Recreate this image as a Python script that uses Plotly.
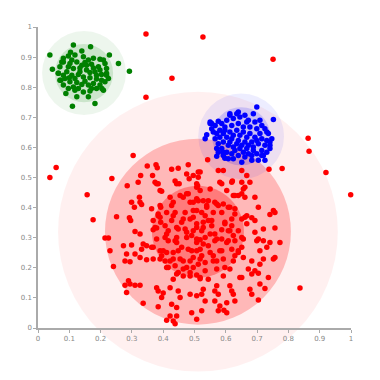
import plotly.graph_objects as go

# ---- data ----
tick_vals = [0, 0.1, 0.2, 0.3, 0.4, 0.5, 0.6, 0.7, 0.8, 0.9, 1]

red_outliers = [
    (0.345, 0.977), (0.527, 0.967), (0.428, 0.830), (0.345, 0.767), (0.751, 0.893),
    (0.304, 0.573), (0.058, 0.533), (0.038, 0.500), (0.157, 0.443), (0.863, 0.630),
    (0.866, 0.587), (0.920, 0.517), (0.999, 0.443), (0.837, 0.133), (0.738, 0.527),
    (0.780, 0.530), (0.236, 0.497), (0.176, 0.360),
]

red_upper_left = [
    (0.349, 0.538), (0.377, 0.542), (0.381, 0.532), (0.427, 0.527), (0.448, 0.531),
    (0.480, 0.542), (0.475, 0.512), (0.496, 0.507), (0.512, 0.518), (0.328, 0.507),
    (0.320, 0.484), (0.366, 0.507), (0.374, 0.484), (0.384, 0.479), (0.395, 0.454),
    (0.285, 0.473), (0.438, 0.488), (0.451, 0.479), (0.483, 0.496), (0.507, 0.479),
    (0.454, 0.440), (0.475, 0.446), (0.432, 0.418), (0.427, 0.407), (0.486, 0.418),
    (0.507, 0.429), (0.299, 0.418), (0.324, 0.434), (0.326, 0.418), (0.331, 0.410),
    (0.308, 0.401), (0.363, 0.396), (0.392, 0.401), (0.411, 0.384), (0.384, 0.373),
    (0.438, 0.384), (0.470, 0.384), (0.496, 0.390), (0.251, 0.370), (0.292, 0.366),
    (0.296, 0.357), (0.368, 0.357), (0.392, 0.351), (0.427, 0.357), (0.459, 0.351),
    (0.486, 0.362), (0.507, 0.346), (0.379, 0.332), (0.368, 0.326), (0.416, 0.323),
    (0.448, 0.329), (0.475, 0.318), (0.310, 0.321), (0.326, 0.312), (0.214, 0.299),
    (0.225, 0.299), (0.406, 0.301), (0.443, 0.301), (0.491, 0.307),
]

red_upper_right = [
    (0.542, 0.559), (0.576, 0.523), (0.592, 0.523), (0.518, 0.518), (0.651, 0.523),
    (0.667, 0.507), (0.512, 0.501), (0.581, 0.484), (0.587, 0.479), (0.621, 0.488),
    (0.651, 0.484), (0.677, 0.484), (0.656, 0.462), (0.661, 0.468), (0.603, 0.457),
    (0.510, 0.473), (0.518, 0.457), (0.651, 0.446), (0.624, 0.440), (0.640, 0.440),
    (0.693, 0.434), (0.661, 0.434), (0.544, 0.423), (0.565, 0.418), (0.528, 0.423),
    (0.512, 0.423), (0.592, 0.412), (0.608, 0.401), (0.576, 0.407), (0.704, 0.401),
    (0.629, 0.396), (0.539, 0.401), (0.507, 0.390), (0.523, 0.384), (0.560, 0.384),
    (0.752, 0.390), (0.757, 0.384), (0.741, 0.377), (0.661, 0.368), (0.683, 0.366),
    (0.651, 0.362), (0.693, 0.357), (0.619, 0.362), (0.597, 0.351), (0.544, 0.357),
    (0.528, 0.351), (0.507, 0.334), (0.555, 0.340), (0.667, 0.346), (0.619, 0.340),
    (0.608, 0.323), (0.587, 0.326), (0.720, 0.329), (0.693, 0.318), (0.757, 0.332),
    (0.523, 0.323), (0.565, 0.312), (0.624, 0.307), (0.651, 0.301), (0.704, 0.296),
    (0.534, 0.301),
]

red_lower_left = [
    (0.273, 0.273), (0.299, 0.276), (0.331, 0.262), (0.347, 0.273), (0.363, 0.268),
    (0.336, 0.279), (0.390, 0.257), (0.395, 0.240), (0.411, 0.251), (0.416, 0.290),
    (0.443, 0.284), (0.448, 0.257), (0.480, 0.262), (0.507, 0.284), (0.230, 0.257),
    (0.283, 0.246), (0.310, 0.246), (0.326, 0.234), (0.278, 0.223), (0.294, 0.220),
    (0.347, 0.227), (0.368, 0.229), (0.406, 0.223), (0.432, 0.229), (0.464, 0.223),
    (0.496, 0.234), (0.241, 0.204), (0.416, 0.201), (0.438, 0.207), (0.475, 0.201),
    (0.512, 0.212), (0.448, 0.184), (0.486, 0.184), (0.507, 0.176), (0.464, 0.173),
    (0.432, 0.162), (0.289, 0.157), (0.294, 0.146), (0.310, 0.142), (0.326, 0.142),
    (0.278, 0.142), (0.379, 0.134), (0.384, 0.123), (0.422, 0.134), (0.448, 0.123),
    (0.283, 0.118), (0.400, 0.116), (0.454, 0.101), (0.486, 0.112), (0.395, 0.101),
    (0.336, 0.082), (0.384, 0.071), (0.427, 0.079), (0.443, 0.068), (0.422, 0.040),
    (0.443, 0.040), (0.432, 0.023), (0.411, 0.026), (0.491, 0.051), (0.438, 0.014),
]

red_lower_right = [
    (0.518, 0.293), (0.544, 0.273), (0.565, 0.290), (0.587, 0.296), (0.608, 0.290),
    (0.619, 0.262), (0.640, 0.257), (0.651, 0.268), (0.629, 0.240), (0.581, 0.257),
    (0.560, 0.240), (0.523, 0.240), (0.507, 0.257), (0.571, 0.223), (0.534, 0.218),
    (0.597, 0.201), (0.699, 0.290), (0.720, 0.290), (0.741, 0.284), (0.773, 0.284),
    (0.709, 0.257), (0.731, 0.268), (0.757, 0.234), (0.752, 0.229), (0.720, 0.229),
    (0.683, 0.223), (0.709, 0.212), (0.672, 0.196), (0.693, 0.190), (0.704, 0.182),
    (0.683, 0.179), (0.651, 0.168), (0.736, 0.168), (0.518, 0.164), (0.544, 0.162),
    (0.709, 0.146), (0.725, 0.131), (0.677, 0.129), (0.683, 0.112), (0.704, 0.093),
    (0.571, 0.140), (0.565, 0.123), (0.576, 0.112), (0.613, 0.140), (0.619, 0.123),
    (0.624, 0.112), (0.528, 0.129), (0.523, 0.112), (0.507, 0.107), (0.565, 0.090),
    (0.581, 0.073), (0.603, 0.084), (0.629, 0.090), (0.576, 0.057), (0.603, 0.051),
    (0.523, 0.057), (0.507, 0.029), (0.534, 0.090), (0.594, 0.059),
]

red_core = [
    (0.379, 0.479), (0.390, 0.457), (0.443, 0.479), (0.507, 0.468), (0.550, 0.462),
    (0.619, 0.484), (0.629, 0.440), (0.422, 0.434), (0.464, 0.434), (0.480, 0.446),
    (0.496, 0.418), (0.539, 0.407), (0.571, 0.412), (0.613, 0.401), (0.390, 0.407),
    (0.384, 0.379), (0.390, 0.368), (0.432, 0.373), (0.464, 0.362), (0.496, 0.368),
    (0.534, 0.373), (0.555, 0.357), (0.587, 0.384), (0.629, 0.379), (0.667, 0.373),
    (0.374, 0.334), (0.406, 0.340), (0.443, 0.334), (0.470, 0.329), (0.496, 0.323),
    (0.528, 0.334), (0.550, 0.312), (0.597, 0.346), (0.613, 0.323), (0.640, 0.323),
    (0.411, 0.312), (0.379, 0.296), (0.438, 0.290), (0.475, 0.301), (0.507, 0.296),
    (0.528, 0.279), (0.571, 0.296), (0.603, 0.284), (0.629, 0.290), (0.656, 0.296),
    (0.368, 0.268), (0.400, 0.257), (0.432, 0.251), (0.459, 0.268), (0.491, 0.257),
    (0.518, 0.262), (0.550, 0.251), (0.587, 0.257), (0.640, 0.251), (0.390, 0.229),
    (0.422, 0.223), (0.454, 0.229), (0.486, 0.223), (0.518, 0.229), (0.560, 0.223),
    (0.592, 0.229), (0.624, 0.223), (0.656, 0.234), (0.411, 0.201), (0.464, 0.196),
    (0.496, 0.201), (0.534, 0.190), (0.571, 0.196), (0.613, 0.196), (0.443, 0.179),
    (0.486, 0.173), (0.518, 0.168), (0.592, 0.173), (0.645, 0.168),
]

green_points = [
    (0.038, 0.907), (0.046, 0.860), (0.113, 0.940), (0.140, 0.920), (0.168, 0.934),
    (0.104, 0.916), (0.228, 0.907), (0.257, 0.879), (0.292, 0.853), (0.110, 0.737),
    (0.182, 0.746), (0.089, 0.779), (0.124, 0.768), (0.161, 0.768), (0.204, 0.796),
    (0.219, 0.840), (0.209, 0.890), (0.081, 0.884), (0.073, 0.823), (0.065, 0.846),
    (0.081, 0.896), (0.097, 0.904), (0.118, 0.907), (0.145, 0.901), (0.177, 0.896),
    (0.198, 0.893), (0.214, 0.879), (0.219, 0.862), (0.225, 0.829), (0.214, 0.818),
    (0.198, 0.807), (0.209, 0.790), (0.187, 0.796), (0.166, 0.787), (0.145, 0.784),
    (0.118, 0.790), (0.097, 0.796), (0.081, 0.807), (0.070, 0.823), (0.065, 0.846),
    (0.070, 0.868), (0.076, 0.884), (0.102, 0.879), (0.124, 0.884), (0.150, 0.882),
    (0.171, 0.876), (0.193, 0.868), (0.113, 0.862), (0.134, 0.864), (0.155, 0.857),
    (0.182, 0.851), (0.203, 0.842), (0.092, 0.851), (0.108, 0.840), (0.129, 0.842),
    (0.145, 0.834), (0.166, 0.831), (0.187, 0.827), (0.086, 0.829), (0.102, 0.818),
    (0.124, 0.816), (0.140, 0.809), (0.161, 0.807), (0.177, 0.812), (0.113, 0.801),
    (0.155, 0.873), (0.134, 0.851), (0.166, 0.849), (0.097, 0.868), (0.187, 0.840),
    (0.198, 0.857), (0.118, 0.829), (0.150, 0.820), (0.171, 0.796), (0.129, 0.796),
    (0.203, 0.823), (0.140, 0.873), (0.108, 0.890), (0.161, 0.890), (0.219, 0.846),
    (0.081, 0.840), (0.100, 0.831), (0.177, 0.864),
]

blue_points = [
    (0.699, 0.734), (0.688, 0.712), (0.752, 0.693), (0.709, 0.690), (0.613, 0.712),
    (0.640, 0.718), (0.661, 0.707), (0.576, 0.687), (0.555, 0.679), (0.539, 0.642),
    (0.534, 0.629), (0.571, 0.596), (0.571, 0.571), (0.597, 0.564), (0.624, 0.562),
    (0.651, 0.551), (0.683, 0.557), (0.725, 0.557), (0.720, 0.573), (0.741, 0.596),
    (0.747, 0.629), (0.731, 0.651), (0.741, 0.607), (0.592, 0.584), (0.672, 0.579),
    (0.550, 0.679), (0.550, 0.684), (0.566, 0.673), (0.587, 0.679), (0.603, 0.690),
    (0.624, 0.696), (0.645, 0.701), (0.672, 0.690), (0.693, 0.684), (0.715, 0.673),
    (0.725, 0.662), (0.736, 0.646), (0.731, 0.623), (0.725, 0.607), (0.715, 0.590),
    (0.699, 0.579), (0.683, 0.573), (0.661, 0.568), (0.640, 0.573), (0.619, 0.579),
    (0.603, 0.584), (0.587, 0.596), (0.576, 0.612), (0.566, 0.629), (0.560, 0.651),
    (0.581, 0.657), (0.597, 0.668), (0.619, 0.673), (0.640, 0.679), (0.656, 0.668),
    (0.677, 0.668), (0.699, 0.662), (0.709, 0.646), (0.715, 0.629), (0.704, 0.612),
    (0.688, 0.601), (0.667, 0.596), (0.645, 0.596), (0.624, 0.601), (0.608, 0.607),
    (0.592, 0.618), (0.581, 0.634), (0.592, 0.646), (0.613, 0.651), (0.635, 0.657),
    (0.656, 0.651), (0.677, 0.646), (0.693, 0.634), (0.699, 0.623), (0.683, 0.618),
    (0.661, 0.618), (0.640, 0.623), (0.619, 0.629), (0.603, 0.634), (0.624, 0.640),
    (0.645, 0.640), (0.667, 0.634), (0.651, 0.607), (0.672, 0.607), (0.635, 0.612),
    (0.613, 0.618), (0.597, 0.657), (0.688, 0.590), (0.656, 0.584), (0.629, 0.590),
    (0.715, 0.573), (0.592, 0.573), (0.571, 0.646), (0.731, 0.584), (0.667, 0.684),
    (0.613, 0.707), (0.635, 0.712), (0.741, 0.618), (0.555, 0.662), (0.704, 0.557),
    (0.576, 0.584), (0.608, 0.562),
]

# cluster centres and ring radii (in x-axis data units)
red_center = (0.511, 0.320)
red_rings = [0.447, 0.297, 0.147]
green_center = (0.147, 0.847)
green_rings = [0.134, 0.093]
blue_center = (0.649, 0.637)
blue_rings = [0.137, 0.093]

# ---- styling ----
L, R, T, B = 38, 29, 27, 52
PLOT_W = 380 - L - R

red_ring_colors = ["rgba(255,0,0,0.06)", "rgba(255,0,0,0.23)", "rgba(255,0,0,0.33)"]
green_ring_colors = ["rgba(0,128,0,0.07)", "rgba(0,128,0,0.14)"]
blue_ring_colors = ["rgba(0,0,255,0.07)", "rgba(0,0,255,0.15)"]

fig = go.Figure()


def add_rings(center, rings, colors):
    for r, c in zip(rings, colors):
        fig.add_trace(go.Scatter(
            x=[center[0]], y=[center[1]], mode="markers",
            marker=dict(size=2 * r * PLOT_W, color=c, line=dict(width=0)),
            cliponaxis=False, hoverinfo="skip", showlegend=False,
        ))


add_rings(red_center, red_rings, red_ring_colors)
add_rings(green_center, green_rings, green_ring_colors)
add_rings(blue_center, blue_rings, blue_ring_colors)


def add_points(points, color):
    fig.add_trace(go.Scatter(
        x=[p[0] for p in points], y=[p[1] for p in points], mode="markers",
        marker=dict(size=5.5, color=color, line=dict(width=0)),
        cliponaxis=False, hoverinfo="skip", showlegend=False,
    ))


red_all = red_outliers + red_upper_left + red_upper_right + red_lower_left + red_lower_right + red_core
add_points(red_all, "#ff0000")
add_points(green_points, "#008000")
add_points(blue_points, "#0000ff")

axis_common = dict(
    range=[0, 1], tickvals=tick_vals, showgrid=False, zeroline=False,
    showline=True, linecolor="#aaaaaa", linewidth=1.5,
    ticks="outside", ticklen=3, tickcolor="#aaaaaa", tickwidth=1,
    tickfont=dict(family="DejaVu Sans", size=7, color="#888888"),
    fixedrange=True,
)

fig.update_layout(
    width=380, height=380,
    margin=dict(l=L, r=R, t=T, b=B),
    paper_bgcolor="white", plot_bgcolor="rgba(0,0,0,0)",
    xaxis=dict(**axis_common),
    yaxis=dict(**axis_common),
)

fig.write_html("out.html")
